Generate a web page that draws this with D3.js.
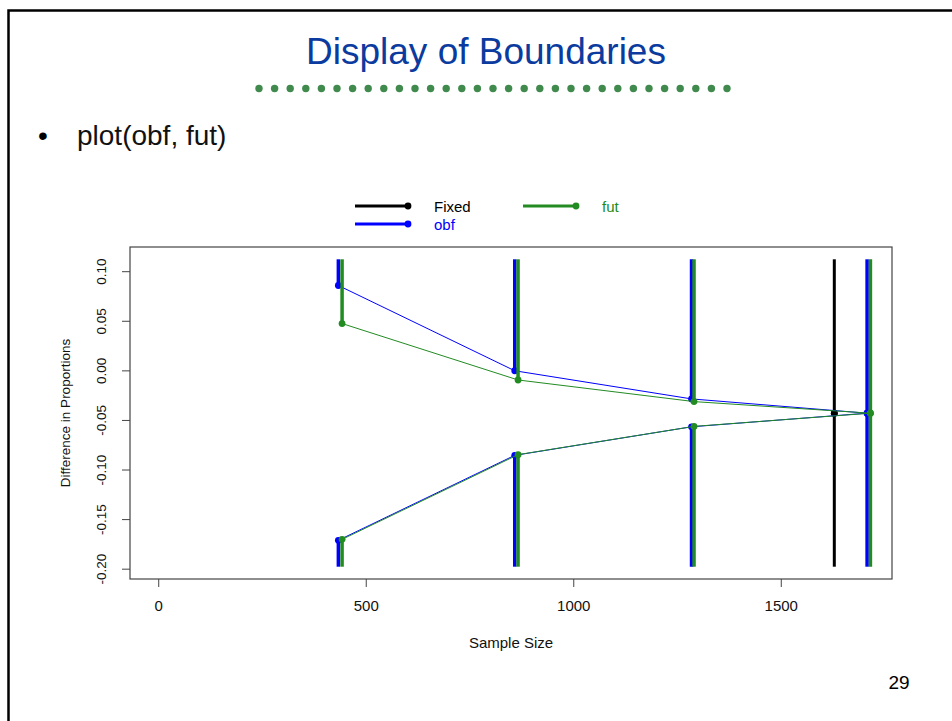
<!DOCTYPE html>
<html>
<head>
<meta charset="utf-8">
<script src="https://cdn.jsdelivr.net/npm/d3@7"></script>
<style>
  body { margin: 0; background: #fff; }
  svg { display: block; font-family: 'Liberation Sans', Arial, sans-serif; }
</style>
</head>
<body>
<svg></svg>
<script>
(function() {

  // sample size at each analysis
  const nObf = [434, 859, 1285, 1708]
  const nFut = [443, 867, 1291, 1716]
  const nFixed = [1629]

  // boundaries on the difference-in-proportions scale
  const upperObf = [0.0856, -0.0004, -0.0288, -0.0432]
  const lowerObf = [-0.1714, -0.0857, -0.0569, -0.0432]
  const upperFut = [0.0472, -0.0097, -0.0315, -0.0432]
  const lowerFut = [-0.1704, -0.0850, -0.0565, -0.0432]
  const boundFixed = [-0.0432]

  const xLim = [0, 1700]
  const yLim = [-0.198, 0.112]
  const xTicks = [0, 500, 1000, 1500]
  const yTicks = [0.10, 0.05, 0.00, -0.05, -0.10, -0.15, -0.20]

  const legendNames = ['Fixed', 'obf', 'fut']
  const legendColors = ['#000000', '#0000ff', '#228b22']

  const svgWidth = 952
  const svgHeight = 721
  const plot = {left: 130, right: 892, top: 247, bottom: 579}

  const padRange = lim => {
    const r = lim[1] - lim[0]
    return [lim[0] - 0.04 * r, lim[1] + 0.04 * r]
  }

  const x = d3.scaleLinear().domain(padRange(xLim)).range([plot.left, plot.right])
  const y = d3.scaleLinear().domain(padRange(yLim)).range([plot.bottom, plot.top])

  const fmtY = d => d3.format('.2f')(d).replace('\u2212', '-')

  const svg = d3.select('svg')
    .attr('width', svgWidth)
    .attr('height', svgHeight)

  // slide frame
  svg.append('rect')
    .attr('x', 8.5).attr('y', 10.5)
    .attr('width', 1000).attr('height', 1000)
    .attr('fill', 'none')
    .attr('stroke', '#000')
    .attr('stroke-width', 2.5)

  // slide title and dotted rule
  svg.append('text')
    .attr('x', 486).attr('y', 64)
    .attr('text-anchor', 'middle')
    .style('font-size', '37px')
    .attr('fill', '#0b3b9e')
    .text('Display of Boundaries')

  svg.selectAll('.rule-dot')
    .data(d3.range(31))
    .enter()
    .append('circle')
    .classed('rule-dot', true)
    .attr('cx', i => 259 + i * 15.6)
    .attr('cy', 88.5)
    .attr('r', 3.7)
    .attr('fill', '#3f8a4c')

  svg.append('text')
    .attr('x', 38).attr('y', 145)
    .style('font-size', '28px')
    .text('\u2022')

  svg.append('text')
    .attr('x', 77).attr('y', 145)
    .style('font-size', '28px')
    .attr('fill', '#111')
    .text('plot(obf, fut)')

  svg.append('text')
    .attr('x', 899).attr('y', 682)
    .attr('text-anchor', 'middle')
    .attr('dominant-baseline', 'central')
    .style('font-size', '19px')
    .text('29')

  // axes
  const xAxis = svg.append('g')
    .attr('transform', `translate(0,${plot.bottom})`)
    .call(d3.axisBottom(x).tickValues(xTicks).tickSize(8).tickPadding(13).tickFormat(d3.format('d')))
  xAxis.select('.domain').remove()
  xAxis.selectAll('line').attr('stroke', '#444')
  xAxis.selectAll('text')
    .style('font-size', '15px')
    .style('font-family', "'Liberation Sans', Arial, sans-serif")
    .attr('fill', '#111')

  const yAxis = svg.append('g')
    .attr('transform', `translate(${plot.left},0)`)
    .call(d3.axisLeft(y).tickValues(yTicks).tickSize(8).tickFormat(fmtY))
  yAxis.select('.domain').remove()
  yAxis.selectAll('line').attr('stroke', '#444')
  yAxis.selectAll('text')
    .attr('transform', 'rotate(-90)')
    .attr('x', 0)
    .attr('y', -28.5)
    .attr('dy', null)
    .attr('dominant-baseline', 'central')
    .style('text-anchor', 'middle')
    .style('font-size', '13.5px')
    .style('font-family', "'Liberation Sans', Arial, sans-serif")
    .attr('fill', '#111')

  svg.append('rect')
    .attr('x', plot.left).attr('y', plot.top)
    .attr('width', plot.right - plot.left)
    .attr('height', plot.bottom - plot.top)
    .attr('fill', 'none')
    .attr('stroke', '#444')
    .attr('stroke-width', 1.2)

  svg.append('text')
    .attr('x', (plot.left + plot.right) / 2).attr('y', 642)
    .attr('text-anchor', 'middle')
    .attr('dominant-baseline', 'central')
    .style('font-size', '15px')
    .attr('fill', '#111')
    .text('Sample Size')

  svg.append('text')
    .attr('transform', `translate(65,${(plot.top + plot.bottom) / 2}) rotate(-90)`)
    .attr('text-anchor', 'middle')
    .attr('dominant-baseline', 'central')
    .style('font-size', '13.5px')
    .attr('fill', '#111')
    .text('Difference in Proportions')

  // boundary designs
  const designs = [
    {name: 'fixed', n: nFixed, upper: boundFixed, lower: boundFixed, color: legendColors[0], width: 3},
    {name: 'obf', n: nObf, upper: upperObf, lower: lowerObf, color: legendColors[1], width: 3.5},
    {name: 'fut', n: nFut, upper: upperFut, lower: lowerFut, color: legendColors[2], width: 3.5}
  ]

  const line = d3.line().x(d => x(d[0])).y(d => y(d[1]))

  for (let des of designs) {
    const g = svg.append('g').classed(des.name, true)

    // rejection regions: from top down to upper bound, from lower bound down to bottom
    g.selectAll('.reg-up')
      .data(des.n)
      .enter()
      .append('line')
      .attr('x1', d => x(d)).attr('x2', d => x(d))
      .attr('y1', y(yLim[1]))
      .attr('y2', (d, i) => y(des.upper[i]))
      .attr('stroke', des.color)
      .attr('stroke-width', des.width)

    g.selectAll('.reg-lo')
      .data(des.n)
      .enter()
      .append('line')
      .attr('x1', d => x(d)).attr('x2', d => x(d))
      .attr('y1', (d, i) => y(des.lower[i]))
      .attr('y2', y(yLim[0]))
      .attr('stroke', des.color)
      .attr('stroke-width', des.width)

    if (des.n.length > 1) {
      g.append('path')
        .attr('d', line(des.n.map((d, i) => [d, des.upper[i]])))
        .attr('fill', 'none')
        .attr('stroke', des.color)
        .attr('stroke-width', 1)
      g.append('path')
        .attr('d', line(des.n.map((d, i) => [d, des.lower[i]])))
        .attr('fill', 'none')
        .attr('stroke', des.color)
        .attr('stroke-width', 1)
    }

    const pts = des.n.map((d, i) => [d, des.upper[i]]).concat(des.n.map((d, i) => [d, des.lower[i]]))
    g.selectAll('circle')
      .data(pts)
      .enter()
      .append('circle')
      .attr('cx', d => x(d[0]))
      .attr('cy', d => y(d[1]))
      .attr('r', 3.4)
      .attr('fill', des.color)
  }

  // legend
  const legendPos = [[355, 206], [355, 224], [523, 206]]
  const legend = svg.selectAll('.legend')
    .data(legendNames)
    .enter()
    .append('g')
    .classed('legend', true)
    .attr('transform', (d, i) => `translate(${legendPos[i][0]},${legendPos[i][1]})`)

  legend.append('line')
    .attr('x1', 0).attr('x2', 53)
    .attr('stroke', (d, i) => legendColors[i])
    .attr('stroke-width', 3)
  legend.append('circle')
    .attr('cx', 53)
    .attr('r', 3.4)
    .attr('fill', (d, i) => legendColors[i])
  legend.append('text')
    .attr('x', 79)
    .attr('dominant-baseline', 'central')
    .style('font-size', '15px')
    .attr('fill', (d, i) => legendColors[i])
    .text(d => d)

})()
</script>
</body>
</html>
